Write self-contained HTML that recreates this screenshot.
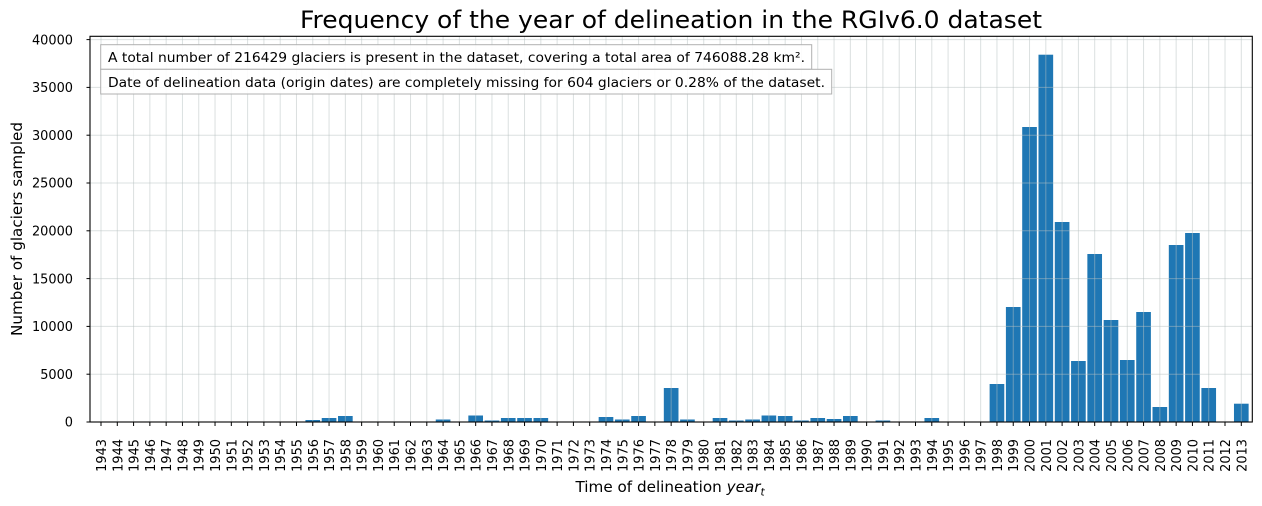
<!DOCTYPE html>
<html><head><meta charset="utf-8"><style>
html,body{margin:0;padding:0;background:#fff;}
svg{display:block;}
text{font-family:"DejaVu Sans","Liberation Sans",sans-serif;fill:#000;}
</style></head><body>
<svg width="1262" height="506" viewBox="0 0 1262 506" xmlns="http://www.w3.org/2000/svg">
<rect width="1262" height="506" fill="#fff"/>
<text x="671" y="28" font-size="24" text-anchor="middle" textLength="742" lengthAdjust="spacingAndGlyphs">Frequency of the year of delineation in the RGIv6.0 dataset</text>
<g fill="#1f77b4">
<rect x="305.44" y="420" width="14.66" height="2"/>
<rect x="321.73" y="418" width="14.66" height="4"/>
<rect x="338.02" y="416" width="14.66" height="6"/>
<rect x="435.76" y="419.5" width="14.66" height="2.5"/>
<rect x="468.34" y="415.5" width="14.66" height="6.5"/>
<rect x="484.63" y="420.5" width="14.66" height="1.5"/>
<rect x="500.92" y="418" width="14.66" height="4"/>
<rect x="517.21" y="418" width="14.66" height="4"/>
<rect x="533.50" y="418" width="14.66" height="4"/>
<rect x="598.66" y="417" width="14.66" height="5"/>
<rect x="614.95" y="419.5" width="14.66" height="2.5"/>
<rect x="631.24" y="416" width="14.66" height="6"/>
<rect x="663.82" y="388" width="14.66" height="34"/>
<rect x="680.11" y="419.5" width="14.66" height="2.5"/>
<rect x="712.69" y="418" width="14.66" height="4"/>
<rect x="728.98" y="420.5" width="14.66" height="1.5"/>
<rect x="745.27" y="419.5" width="14.66" height="2.5"/>
<rect x="761.56" y="415.5" width="14.66" height="6.5"/>
<rect x="777.85" y="416" width="14.66" height="6"/>
<rect x="794.14" y="420.5" width="14.66" height="1.5"/>
<rect x="810.43" y="418" width="14.66" height="4"/>
<rect x="826.72" y="419" width="14.66" height="3"/>
<rect x="843.01" y="416" width="14.66" height="6"/>
<rect x="875.59" y="420.5" width="14.66" height="1.5"/>
<rect x="924.46" y="418" width="14.66" height="4"/>
<rect x="989.62" y="384" width="14.66" height="38"/>
<rect x="1005.91" y="307" width="14.66" height="115"/>
<rect x="1022.20" y="127" width="14.66" height="295"/>
<rect x="1038.49" y="54.7" width="14.66" height="367.3"/>
<rect x="1054.78" y="222" width="14.66" height="200"/>
<rect x="1071.07" y="361" width="14.66" height="61"/>
<rect x="1087.36" y="254" width="14.66" height="168"/>
<rect x="1103.65" y="320" width="14.66" height="102"/>
<rect x="1119.94" y="360" width="14.66" height="62"/>
<rect x="1136.23" y="312" width="14.66" height="110"/>
<rect x="1152.52" y="407" width="14.66" height="15"/>
<rect x="1168.81" y="245" width="14.66" height="177"/>
<rect x="1185.10" y="233" width="14.66" height="189"/>
<rect x="1201.39" y="388" width="14.66" height="34"/>
<rect x="1233.97" y="403.7" width="14.66" height="18.3"/>
</g>
<g stroke="#b8c2c2" stroke-opacity="0.5" stroke-width="1">
<line x1="90" x2="1252" y1="374.2" y2="374.2"/>
<line x1="90" x2="1252" y1="326.4" y2="326.4"/>
<line x1="90" x2="1252" y1="278.6" y2="278.6"/>
<line x1="90" x2="1252" y1="230.8" y2="230.8"/>
<line x1="90" x2="1252" y1="183" y2="183"/>
<line x1="90" x2="1252" y1="135.2" y2="135.2"/>
<line x1="90" x2="1252" y1="87.4" y2="87.4"/>
<line x1="90" x2="1252" y1="39.6" y2="39.6"/>
</g>
<g font-size="12.9" text-anchor="end">
<text x="73" y="426.7">0</text>
<text x="73" y="378.9">5000</text>
<text x="73" y="331.1">10000</text>
<text x="73" y="283.3">15000</text>
<text x="73" y="235.5">20000</text>
<text x="73" y="187.7">25000</text>
<text x="73" y="139.9">30000</text>
<text x="73" y="92.1">35000</text>
<text x="73" y="44.3">40000</text>
</g>
<g stroke="#000" stroke-width="1">
<line x1="86.5" x2="90" y1="422" y2="422"/>
<line x1="86.5" x2="90" y1="374.2" y2="374.2"/>
<line x1="86.5" x2="90" y1="326.4" y2="326.4"/>
<line x1="86.5" x2="90" y1="278.6" y2="278.6"/>
<line x1="86.5" x2="90" y1="230.8" y2="230.8"/>
<line x1="86.5" x2="90" y1="183" y2="183"/>
<line x1="86.5" x2="90" y1="135.2" y2="135.2"/>
<line x1="86.5" x2="90" y1="87.4" y2="87.4"/>
<line x1="86.5" x2="90" y1="39.6" y2="39.6"/>
</g>
<g id="xt" font-size="12.9" text-anchor="end">
<g transform="translate(101.00,0)"><line y1="36.3" y2="422" stroke="#b8c2c2" stroke-opacity="0.5"/><line y1="422" y2="426" stroke="#000"/><text transform="translate(5,439) rotate(-90)">1943</text></g>
<g transform="translate(117.29,0)"><line y1="36.3" y2="422" stroke="#b8c2c2" stroke-opacity="0.5"/><line y1="422" y2="426" stroke="#000"/><text transform="translate(5,439) rotate(-90)">1944</text></g>
<g transform="translate(133.58,0)"><line y1="36.3" y2="422" stroke="#b8c2c2" stroke-opacity="0.5"/><line y1="422" y2="426" stroke="#000"/><text transform="translate(5,439) rotate(-90)">1945</text></g>
<g transform="translate(149.87,0)"><line y1="36.3" y2="422" stroke="#b8c2c2" stroke-opacity="0.5"/><line y1="422" y2="426" stroke="#000"/><text transform="translate(5,439) rotate(-90)">1946</text></g>
<g transform="translate(166.16,0)"><line y1="36.3" y2="422" stroke="#b8c2c2" stroke-opacity="0.5"/><line y1="422" y2="426" stroke="#000"/><text transform="translate(5,439) rotate(-90)">1947</text></g>
<g transform="translate(182.45,0)"><line y1="36.3" y2="422" stroke="#b8c2c2" stroke-opacity="0.5"/><line y1="422" y2="426" stroke="#000"/><text transform="translate(5,439) rotate(-90)">1948</text></g>
<g transform="translate(198.74,0)"><line y1="36.3" y2="422" stroke="#b8c2c2" stroke-opacity="0.5"/><line y1="422" y2="426" stroke="#000"/><text transform="translate(5,439) rotate(-90)">1949</text></g>
<g transform="translate(215.03,0)"><line y1="36.3" y2="422" stroke="#b8c2c2" stroke-opacity="0.5"/><line y1="422" y2="426" stroke="#000"/><text transform="translate(5,439) rotate(-90)">1950</text></g>
<g transform="translate(231.32,0)"><line y1="36.3" y2="422" stroke="#b8c2c2" stroke-opacity="0.5"/><line y1="422" y2="426" stroke="#000"/><text transform="translate(5,439) rotate(-90)">1951</text></g>
<g transform="translate(247.61,0)"><line y1="36.3" y2="422" stroke="#b8c2c2" stroke-opacity="0.5"/><line y1="422" y2="426" stroke="#000"/><text transform="translate(5,439) rotate(-90)">1952</text></g>
<g transform="translate(263.90,0)"><line y1="36.3" y2="422" stroke="#b8c2c2" stroke-opacity="0.5"/><line y1="422" y2="426" stroke="#000"/><text transform="translate(5,439) rotate(-90)">1953</text></g>
<g transform="translate(280.19,0)"><line y1="36.3" y2="422" stroke="#b8c2c2" stroke-opacity="0.5"/><line y1="422" y2="426" stroke="#000"/><text transform="translate(5,439) rotate(-90)">1954</text></g>
<g transform="translate(296.48,0)"><line y1="36.3" y2="422" stroke="#b8c2c2" stroke-opacity="0.5"/><line y1="422" y2="426" stroke="#000"/><text transform="translate(5,439) rotate(-90)">1955</text></g>
<g transform="translate(312.77,0)"><line y1="36.3" y2="422" stroke="#b8c2c2" stroke-opacity="0.5"/><line y1="422" y2="426" stroke="#000"/><text transform="translate(5,439) rotate(-90)">1956</text></g>
<g transform="translate(329.06,0)"><line y1="36.3" y2="422" stroke="#b8c2c2" stroke-opacity="0.5"/><line y1="422" y2="426" stroke="#000"/><text transform="translate(5,439) rotate(-90)">1957</text></g>
<g transform="translate(345.35,0)"><line y1="36.3" y2="422" stroke="#b8c2c2" stroke-opacity="0.5"/><line y1="422" y2="426" stroke="#000"/><text transform="translate(5,439) rotate(-90)">1958</text></g>
<g transform="translate(361.64,0)"><line y1="36.3" y2="422" stroke="#b8c2c2" stroke-opacity="0.5"/><line y1="422" y2="426" stroke="#000"/><text transform="translate(5,439) rotate(-90)">1959</text></g>
<g transform="translate(377.93,0)"><line y1="36.3" y2="422" stroke="#b8c2c2" stroke-opacity="0.5"/><line y1="422" y2="426" stroke="#000"/><text transform="translate(5,439) rotate(-90)">1960</text></g>
<g transform="translate(394.22,0)"><line y1="36.3" y2="422" stroke="#b8c2c2" stroke-opacity="0.5"/><line y1="422" y2="426" stroke="#000"/><text transform="translate(5,439) rotate(-90)">1961</text></g>
<g transform="translate(410.51,0)"><line y1="36.3" y2="422" stroke="#b8c2c2" stroke-opacity="0.5"/><line y1="422" y2="426" stroke="#000"/><text transform="translate(5,439) rotate(-90)">1962</text></g>
<g transform="translate(426.80,0)"><line y1="36.3" y2="422" stroke="#b8c2c2" stroke-opacity="0.5"/><line y1="422" y2="426" stroke="#000"/><text transform="translate(5,439) rotate(-90)">1963</text></g>
<g transform="translate(443.09,0)"><line y1="36.3" y2="422" stroke="#b8c2c2" stroke-opacity="0.5"/><line y1="422" y2="426" stroke="#000"/><text transform="translate(5,439) rotate(-90)">1964</text></g>
<g transform="translate(459.38,0)"><line y1="36.3" y2="422" stroke="#b8c2c2" stroke-opacity="0.5"/><line y1="422" y2="426" stroke="#000"/><text transform="translate(5,439) rotate(-90)">1965</text></g>
<g transform="translate(475.67,0)"><line y1="36.3" y2="422" stroke="#b8c2c2" stroke-opacity="0.5"/><line y1="422" y2="426" stroke="#000"/><text transform="translate(5,439) rotate(-90)">1966</text></g>
<g transform="translate(491.96,0)"><line y1="36.3" y2="422" stroke="#b8c2c2" stroke-opacity="0.5"/><line y1="422" y2="426" stroke="#000"/><text transform="translate(5,439) rotate(-90)">1967</text></g>
<g transform="translate(508.25,0)"><line y1="36.3" y2="422" stroke="#b8c2c2" stroke-opacity="0.5"/><line y1="422" y2="426" stroke="#000"/><text transform="translate(5,439) rotate(-90)">1968</text></g>
<g transform="translate(524.54,0)"><line y1="36.3" y2="422" stroke="#b8c2c2" stroke-opacity="0.5"/><line y1="422" y2="426" stroke="#000"/><text transform="translate(5,439) rotate(-90)">1969</text></g>
<g transform="translate(540.83,0)"><line y1="36.3" y2="422" stroke="#b8c2c2" stroke-opacity="0.5"/><line y1="422" y2="426" stroke="#000"/><text transform="translate(5,439) rotate(-90)">1970</text></g>
<g transform="translate(557.12,0)"><line y1="36.3" y2="422" stroke="#b8c2c2" stroke-opacity="0.5"/><line y1="422" y2="426" stroke="#000"/><text transform="translate(5,439) rotate(-90)">1971</text></g>
<g transform="translate(573.41,0)"><line y1="36.3" y2="422" stroke="#b8c2c2" stroke-opacity="0.5"/><line y1="422" y2="426" stroke="#000"/><text transform="translate(5,439) rotate(-90)">1972</text></g>
<g transform="translate(589.70,0)"><line y1="36.3" y2="422" stroke="#b8c2c2" stroke-opacity="0.5"/><line y1="422" y2="426" stroke="#000"/><text transform="translate(5,439) rotate(-90)">1973</text></g>
<g transform="translate(605.99,0)"><line y1="36.3" y2="422" stroke="#b8c2c2" stroke-opacity="0.5"/><line y1="422" y2="426" stroke="#000"/><text transform="translate(5,439) rotate(-90)">1974</text></g>
<g transform="translate(622.28,0)"><line y1="36.3" y2="422" stroke="#b8c2c2" stroke-opacity="0.5"/><line y1="422" y2="426" stroke="#000"/><text transform="translate(5,439) rotate(-90)">1975</text></g>
<g transform="translate(638.57,0)"><line y1="36.3" y2="422" stroke="#b8c2c2" stroke-opacity="0.5"/><line y1="422" y2="426" stroke="#000"/><text transform="translate(5,439) rotate(-90)">1976</text></g>
<g transform="translate(654.86,0)"><line y1="36.3" y2="422" stroke="#b8c2c2" stroke-opacity="0.5"/><line y1="422" y2="426" stroke="#000"/><text transform="translate(5,439) rotate(-90)">1977</text></g>
<g transform="translate(671.15,0)"><line y1="36.3" y2="422" stroke="#b8c2c2" stroke-opacity="0.5"/><line y1="422" y2="426" stroke="#000"/><text transform="translate(5,439) rotate(-90)">1978</text></g>
<g transform="translate(687.44,0)"><line y1="36.3" y2="422" stroke="#b8c2c2" stroke-opacity="0.5"/><line y1="422" y2="426" stroke="#000"/><text transform="translate(5,439) rotate(-90)">1979</text></g>
<g transform="translate(703.73,0)"><line y1="36.3" y2="422" stroke="#b8c2c2" stroke-opacity="0.5"/><line y1="422" y2="426" stroke="#000"/><text transform="translate(5,439) rotate(-90)">1980</text></g>
<g transform="translate(720.02,0)"><line y1="36.3" y2="422" stroke="#b8c2c2" stroke-opacity="0.5"/><line y1="422" y2="426" stroke="#000"/><text transform="translate(5,439) rotate(-90)">1981</text></g>
<g transform="translate(736.31,0)"><line y1="36.3" y2="422" stroke="#b8c2c2" stroke-opacity="0.5"/><line y1="422" y2="426" stroke="#000"/><text transform="translate(5,439) rotate(-90)">1982</text></g>
<g transform="translate(752.60,0)"><line y1="36.3" y2="422" stroke="#b8c2c2" stroke-opacity="0.5"/><line y1="422" y2="426" stroke="#000"/><text transform="translate(5,439) rotate(-90)">1983</text></g>
<g transform="translate(768.89,0)"><line y1="36.3" y2="422" stroke="#b8c2c2" stroke-opacity="0.5"/><line y1="422" y2="426" stroke="#000"/><text transform="translate(5,439) rotate(-90)">1984</text></g>
<g transform="translate(785.18,0)"><line y1="36.3" y2="422" stroke="#b8c2c2" stroke-opacity="0.5"/><line y1="422" y2="426" stroke="#000"/><text transform="translate(5,439) rotate(-90)">1985</text></g>
<g transform="translate(801.47,0)"><line y1="36.3" y2="422" stroke="#b8c2c2" stroke-opacity="0.5"/><line y1="422" y2="426" stroke="#000"/><text transform="translate(5,439) rotate(-90)">1986</text></g>
<g transform="translate(817.76,0)"><line y1="36.3" y2="422" stroke="#b8c2c2" stroke-opacity="0.5"/><line y1="422" y2="426" stroke="#000"/><text transform="translate(5,439) rotate(-90)">1987</text></g>
<g transform="translate(834.05,0)"><line y1="36.3" y2="422" stroke="#b8c2c2" stroke-opacity="0.5"/><line y1="422" y2="426" stroke="#000"/><text transform="translate(5,439) rotate(-90)">1988</text></g>
<g transform="translate(850.34,0)"><line y1="36.3" y2="422" stroke="#b8c2c2" stroke-opacity="0.5"/><line y1="422" y2="426" stroke="#000"/><text transform="translate(5,439) rotate(-90)">1989</text></g>
<g transform="translate(866.63,0)"><line y1="36.3" y2="422" stroke="#b8c2c2" stroke-opacity="0.5"/><line y1="422" y2="426" stroke="#000"/><text transform="translate(5,439) rotate(-90)">1990</text></g>
<g transform="translate(882.92,0)"><line y1="36.3" y2="422" stroke="#b8c2c2" stroke-opacity="0.5"/><line y1="422" y2="426" stroke="#000"/><text transform="translate(5,439) rotate(-90)">1991</text></g>
<g transform="translate(899.21,0)"><line y1="36.3" y2="422" stroke="#b8c2c2" stroke-opacity="0.5"/><line y1="422" y2="426" stroke="#000"/><text transform="translate(5,439) rotate(-90)">1992</text></g>
<g transform="translate(915.50,0)"><line y1="36.3" y2="422" stroke="#b8c2c2" stroke-opacity="0.5"/><line y1="422" y2="426" stroke="#000"/><text transform="translate(5,439) rotate(-90)">1993</text></g>
<g transform="translate(931.79,0)"><line y1="36.3" y2="422" stroke="#b8c2c2" stroke-opacity="0.5"/><line y1="422" y2="426" stroke="#000"/><text transform="translate(5,439) rotate(-90)">1994</text></g>
<g transform="translate(948.08,0)"><line y1="36.3" y2="422" stroke="#b8c2c2" stroke-opacity="0.5"/><line y1="422" y2="426" stroke="#000"/><text transform="translate(5,439) rotate(-90)">1995</text></g>
<g transform="translate(964.37,0)"><line y1="36.3" y2="422" stroke="#b8c2c2" stroke-opacity="0.5"/><line y1="422" y2="426" stroke="#000"/><text transform="translate(5,439) rotate(-90)">1996</text></g>
<g transform="translate(980.66,0)"><line y1="36.3" y2="422" stroke="#b8c2c2" stroke-opacity="0.5"/><line y1="422" y2="426" stroke="#000"/><text transform="translate(5,439) rotate(-90)">1997</text></g>
<g transform="translate(996.95,0)"><line y1="36.3" y2="422" stroke="#b8c2c2" stroke-opacity="0.5"/><line y1="422" y2="426" stroke="#000"/><text transform="translate(5,439) rotate(-90)">1998</text></g>
<g transform="translate(1013.24,0)"><line y1="36.3" y2="422" stroke="#b8c2c2" stroke-opacity="0.5"/><line y1="422" y2="426" stroke="#000"/><text transform="translate(5,439) rotate(-90)">1999</text></g>
<g transform="translate(1029.53,0)"><line y1="36.3" y2="422" stroke="#b8c2c2" stroke-opacity="0.5"/><line y1="422" y2="426" stroke="#000"/><text transform="translate(5,439) rotate(-90)">2000</text></g>
<g transform="translate(1045.82,0)"><line y1="36.3" y2="422" stroke="#b8c2c2" stroke-opacity="0.5"/><line y1="422" y2="426" stroke="#000"/><text transform="translate(5,439) rotate(-90)">2001</text></g>
<g transform="translate(1062.11,0)"><line y1="36.3" y2="422" stroke="#b8c2c2" stroke-opacity="0.5"/><line y1="422" y2="426" stroke="#000"/><text transform="translate(5,439) rotate(-90)">2002</text></g>
<g transform="translate(1078.40,0)"><line y1="36.3" y2="422" stroke="#b8c2c2" stroke-opacity="0.5"/><line y1="422" y2="426" stroke="#000"/><text transform="translate(5,439) rotate(-90)">2003</text></g>
<g transform="translate(1094.69,0)"><line y1="36.3" y2="422" stroke="#b8c2c2" stroke-opacity="0.5"/><line y1="422" y2="426" stroke="#000"/><text transform="translate(5,439) rotate(-90)">2004</text></g>
<g transform="translate(1110.98,0)"><line y1="36.3" y2="422" stroke="#b8c2c2" stroke-opacity="0.5"/><line y1="422" y2="426" stroke="#000"/><text transform="translate(5,439) rotate(-90)">2005</text></g>
<g transform="translate(1127.27,0)"><line y1="36.3" y2="422" stroke="#b8c2c2" stroke-opacity="0.5"/><line y1="422" y2="426" stroke="#000"/><text transform="translate(5,439) rotate(-90)">2006</text></g>
<g transform="translate(1143.56,0)"><line y1="36.3" y2="422" stroke="#b8c2c2" stroke-opacity="0.5"/><line y1="422" y2="426" stroke="#000"/><text transform="translate(5,439) rotate(-90)">2007</text></g>
<g transform="translate(1159.85,0)"><line y1="36.3" y2="422" stroke="#b8c2c2" stroke-opacity="0.5"/><line y1="422" y2="426" stroke="#000"/><text transform="translate(5,439) rotate(-90)">2008</text></g>
<g transform="translate(1176.14,0)"><line y1="36.3" y2="422" stroke="#b8c2c2" stroke-opacity="0.5"/><line y1="422" y2="426" stroke="#000"/><text transform="translate(5,439) rotate(-90)">2009</text></g>
<g transform="translate(1192.43,0)"><line y1="36.3" y2="422" stroke="#b8c2c2" stroke-opacity="0.5"/><line y1="422" y2="426" stroke="#000"/><text transform="translate(5,439) rotate(-90)">2010</text></g>
<g transform="translate(1208.72,0)"><line y1="36.3" y2="422" stroke="#b8c2c2" stroke-opacity="0.5"/><line y1="422" y2="426" stroke="#000"/><text transform="translate(5,439) rotate(-90)">2011</text></g>
<g transform="translate(1225.01,0)"><line y1="36.3" y2="422" stroke="#b8c2c2" stroke-opacity="0.5"/><line y1="422" y2="426" stroke="#000"/><text transform="translate(5,439) rotate(-90)">2012</text></g>
<g transform="translate(1241.30,0)"><line y1="36.3" y2="422" stroke="#b8c2c2" stroke-opacity="0.5"/><line y1="422" y2="426" stroke="#000"/><text transform="translate(5,439) rotate(-90)">2013</text></g>
</g>
<rect x="100.7" y="44.7" width="711" height="24.6" fill="#fff" fill-opacity="0.9" stroke="#b0b0b0" stroke-width="1"/>
<rect x="100.7" y="69.3" width="731" height="24.7" fill="#fff" fill-opacity="0.9" stroke="#b0b0b0" stroke-width="1"/>
<text x="108" y="62" font-size="13.3" textLength="697" lengthAdjust="spacingAndGlyphs">A total number of 216429 glaciers is present in the dataset, covering a total area of 746088.28 km².</text>
<text x="108" y="87" font-size="13.3" textLength="717" lengthAdjust="spacingAndGlyphs">Date of delineation data (origin dates) are completely missing for 604 glaciers or 0.28% of the dataset.</text>
<rect x="90" y="36.3" width="1162.3" height="385.7" fill="none" stroke="#000" stroke-width="1.1"/>
<text transform="translate(22,229) rotate(-90)" font-size="15.2" text-anchor="middle" textLength="214" lengthAdjust="spacingAndGlyphs">Number of glaciers sampled</text>
<text x="575.5" y="492" font-size="15.2">Time of delineation <tspan font-style="italic">year</tspan><tspan font-style="italic" font-size="10.6" dy="3.5">t</tspan></text>
</svg>
</body></html>
